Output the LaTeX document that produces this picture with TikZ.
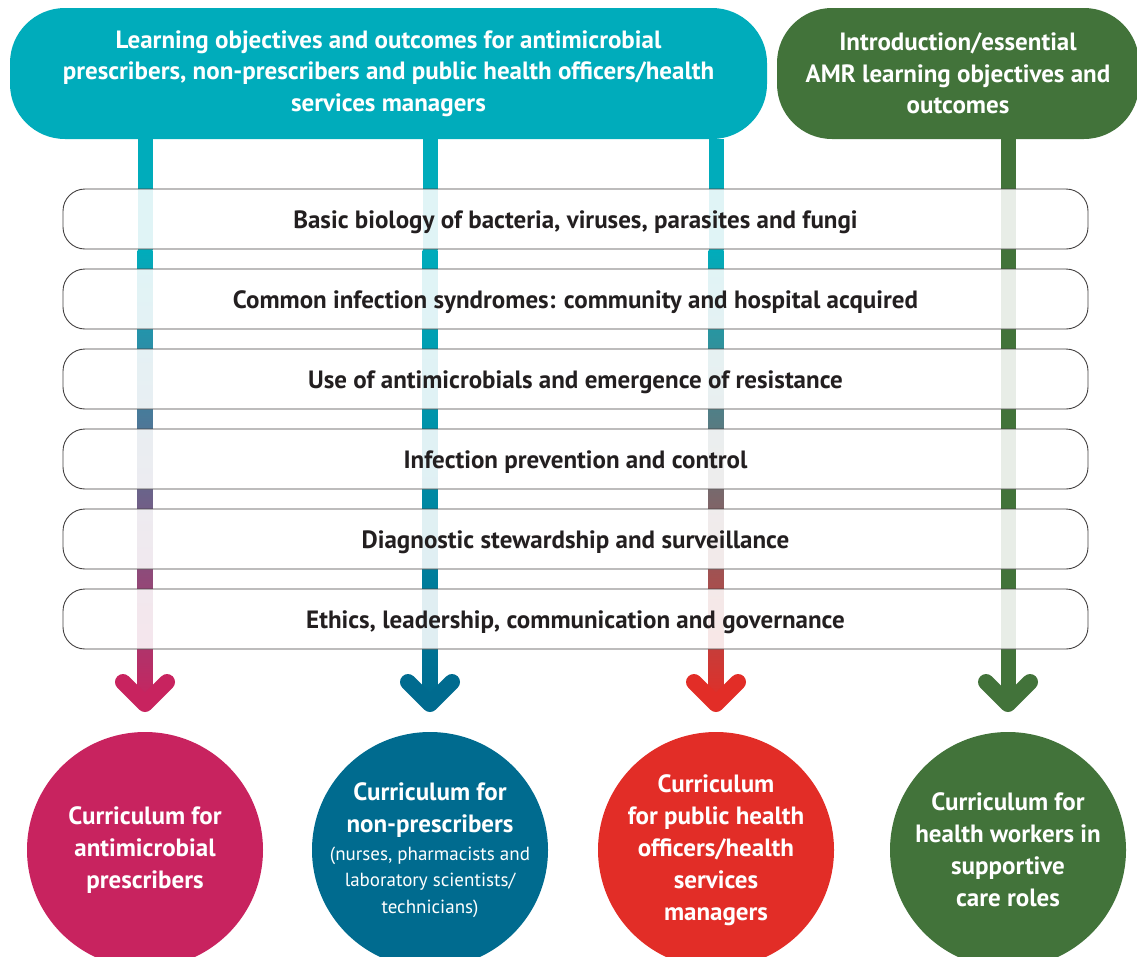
\documentclass[tikz,border=0pt]{standalone}
\usepackage{fontspec}
\setmainfont{PT Sans}
\usetikzlibrary{positioning}

\definecolor{amrteal}{HTML}{00ACBB}
\definecolor{amrgreen}{HTML}{42733A}
\definecolor{amrpink}{HTML}{C8235F}
\definecolor{amrblue}{HTML}{006B8F}
\definecolor{amrred}{HTML}{E22D27}
\definecolor{amrtext}{HTML}{231F20}

\begin{document}
\begin{tikzpicture}[x=1pt, y=-1pt, line cap=round, line join=round]

    % --- STYLES ---
    \tikzstyle{headbox} = [rounded corners=55pt, text=white, align=center, inner sep=0pt,
                           font=\bfseries\fontsize{25}{31.5}\selectfont]
    \tikzstyle{topic} = [draw=amrtext!85, line width=0.9pt, fill=white, fill opacity=0.88, text opacity=1,
                         rounded corners=22pt, minimum width=1025pt, minimum height=60pt,
                         text height=18pt, text depth=0pt,
                         text=amrtext, font=\bfseries\fontsize{25}{28}\selectfont]
    % negative inner sep keeps the text from blowing the circle up
    \tikzstyle{course} = [circle, minimum size=236pt, inner sep=-30pt, text=white, align=center,
                          font=\bfseries\fontsize{25}{32}\selectfont]
    \tikzstyle{flow} = [line width=15pt, line cap=butt]
    \tikzstyle{chevron} = [line width=16pt, line cap=round, line join=round]

    % --- DEFINITIONS ---
    \def\gy{250} % where the colour fade starts
    \def\ty{704} % chevron tip

    \useasboundingbox (0,0) rectangle (1137,956);

    % --- HEADERS ---
    \node[headbox, fill=amrteal, minimum width=757pt, minimum height=131pt] (objbox) at (388.5,73.5)
        {Learning objectives and outcomes for antimicrobial\\
         prescribers, non-prescribers and public health officers/health\\
         services managers};
    \node[headbox, fill=amrgreen, minimum width=362pt, minimum height=131pt] (introbox) at (958,73.5)
        {Introduction/essential\\AMR learning objectives and\\outcomes};

    % --- CURRICULA ---
    \node[course, fill=amrpink] (presc) at (145,850)
        {Curriculum for\\antimicrobial\\prescribers};
    \node[course, fill=amrblue] (nonpresc) at (430,850)
        {Curriculum for\\non-prescribers\\[-4pt]
         \parbox[t]{230pt}{\centering\mdseries\fontsize{19}{26.5}\selectfont
          (nurses, pharmacists and\\laboratory scientists/\\technicians)}};
    \node[course, fill=amrred] (public) at (716,850)
        {Curriculum\\for public health\\officers/health\\services\\managers};
    \node[course, fill=amrgreen] (support) at (1008,850)
        {Curriculum for\\health workers in\\supportive\\care roles};

    % --- FLOW LINES ---
    \foreach \col/\clr in {presc/amrpink, nonpresc/amrblue, public/amrred} {
        \draw[flow, amrteal] (objbox.south -| \col) -- (\col.north |- 0,\gy);
        \shade[top color=amrteal, bottom color=\clr]
            ([xshift=-7.5pt]\col.north |- 0,\gy) rectangle ([xshift=7.5pt]\col.north |- 0,\ty);
        \draw[chevron, \clr] ([xshift=-22pt]\col.north |- 0,\ty-22) -- (\col.north |- 0,\ty)
            -- ([xshift=22pt]\col.north |- 0,\ty-22);
    }
    \draw[flow, amrgreen] (introbox.south -| support) -- (support.north |- 0,\ty);
    \draw[chevron, amrgreen] ([xshift=-22pt]support.north |- 0,\ty-22) -- (support.north |- 0,\ty)
        -- ([xshift=22pt]support.north |- 0,\ty-22);

    % --- TOPICS ---
    \node[topic] (bio) at (575.5,219) {Basic biology of bacteria, viruses, parasites and fungi};
    \node[topic] (syndr) at (575.5,299) {Common infection syndromes: community and hospital acquired};
    \node[topic] (usage) at (575.5,379) {Use of antimicrobials and emergence of resistance};
    \node[topic] (ipc) at (575.5,459) {Infection prevention and control};
    \node[topic] (diag) at (575.5,539) {Diagnostic stewardship and surveillance};
    \node[topic] (ethics) at (575.5,619) {Ethics, leadership, communication and governance};

\end{tikzpicture}
\end{document}
